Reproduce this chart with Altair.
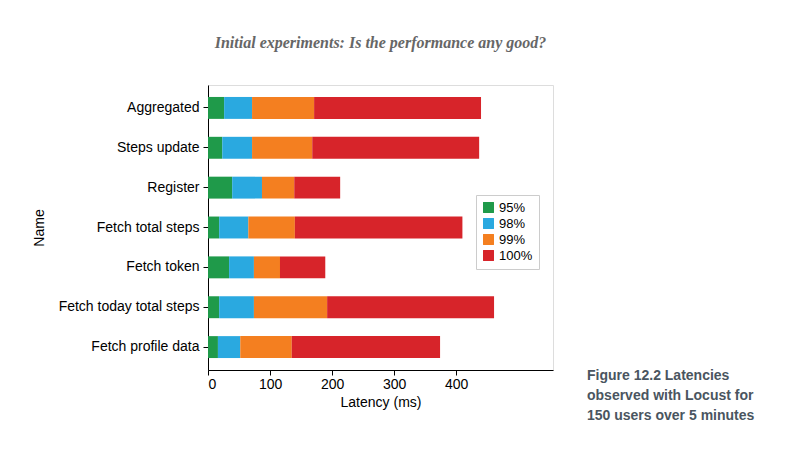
import altair as alt
import pandas as pd

names = ["Aggregated", "Steps update", "Register", "Fetch total steps",
         "Fetch token", "Fetch today total steps", "Fetch profile data"]
p95 = [26, 23, 39, 18, 34, 18, 16]
p98 = [71, 71, 87, 65, 74, 74, 52]
p99 = [171, 168, 139, 140, 116, 192, 135]
p100 = [440, 437, 213, 410, 189, 461, 374]
levels = ["95%", "98%", "99%", "100%"]
colors = ["#1f9a4a", "#2aa9e0", "#f47f20", "#d7242a"]

rows = []
for i, n in enumerate(names):
    vals = [0, p95[i], p98[i], p99[i], p100[i]]
    for k, lv in enumerate(levels):
        rows.append({"Name": n, "level": lv, "start": vals[k], "end": vals[k + 1], "order": k})
df = pd.DataFrame(rows)

bars = alt.Chart(df).mark_bar().encode(
    y=alt.Y("Name:N", sort=names, scale=alt.Scale(paddingInner=0.45, paddingOuter=0.3),
            axis=alt.Axis(title="Name", labelFontSize=14, titleFontSize=14, titleFontWeight="normal",
                          labelColor="black", titleColor="black", tickColor="black", domainColor="black",
                          labelPadding=4, titlePadding=12)),
    x=alt.X("start:Q", scale=alt.Scale(domain=[0, 556], nice=False),
            axis=alt.Axis(title="Latency (ms)", values=[0, 100, 200, 300, 400], grid=False,
                          labelFontSize=14, titleFontSize=14, titleFontWeight="normal",
                          labelColor="black", titleColor="black", tickColor="black", domainColor="black")),
    x2="end:Q",
    color=alt.Color("level:N", sort=levels, scale=alt.Scale(domain=levels, range=colors),
                    legend=alt.Legend(title=None, orient="none", legendX=268, legendY=110,
                                      symbolType="square", symbolSize=120, labelFontSize=13,
                                      strokeColor="#cccccc", padding=6, symbolStrokeWidth=0)),
    order="order:Q",
)

caption = alt.Chart(pd.DataFrame({"t": [["Figure 12.2    Latencies", "observed with Locust for", "150 users over 5 minutes"]]})).mark_text(
    align="left", baseline="top", fontSize=14, fontWeight="bold", color="#4a5560",
    font="Liberation Sans", lineHeight=20
).encode(text="t:N", x=alt.value(379), y=alt.value(284))

chart = alt.layer(bars, caption).properties(
    width=345, height=285,
    title=alt.TitleParams("Initial experiments: Is the performance any good?", font="Liberation Serif",
                          fontStyle="italic", fontWeight="bold", fontSize=16, color="#666666",
                          anchor="middle", offset=34),
    autosize=alt.AutoSizeParams(type="none"),
    padding={"left": 200, "top": 77, "right": 250, "bottom": 80},
).configure_view(stroke="black", strokeWidth=1).configure(background="white")

chart.save("out.html", embed_options={"renderer": "svg", "actions": False})
